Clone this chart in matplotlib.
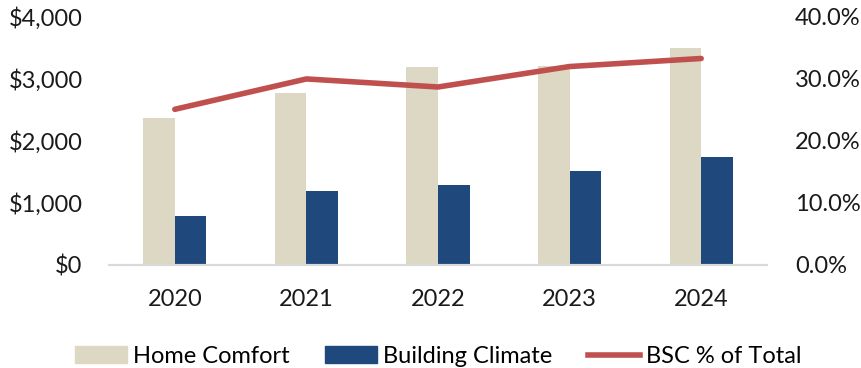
import matplotlib.pyplot as plt
from matplotlib.patches import Patch
from matplotlib.lines import Line2D
from matplotlib.ticker import FuncFormatter
import numpy as np

plt.rcParams['font.family'] = ['Lato', 'DejaVu Sans']

years = ['2020', '2021', '2022', '2023', '2024']
home_comfort = [2366, 2774, 3199, 3215, 3495]
building_climate = [795, 1188, 1285, 1511, 1742]
bsc_pct = [25.1, 30.0, 28.7, 32.0, 33.3]

beige = '#DDD8C3'
navy = '#1F497D'
red = '#C0504D'

fig = plt.figure(figsize=(8.61, 3.68), dpi=100)
ax = fig.add_axes([0.1266, 0.280, 0.7642, 0.674])
ax2 = ax.twinx()

x = np.arange(len(years))
w = 0.24
ax.bar(x - w / 2, home_comfort, w, color=beige)
ax.bar(x + w / 2, building_climate, w, color=navy)
ax2.plot(x, bsc_pct, color=red, lw=4, solid_capstyle='round')

ax.set_xlim(-0.5, 4.5)
ax.set_ylim(0, 4000)
ax.set_yticks([0, 1000, 2000, 3000, 4000])
ax.yaxis.set_major_formatter(FuncFormatter(lambda v, p: '${:,.0f}'.format(v)))
ax2.set_ylim(0, 40)
ax2.set_yticks([0, 10, 20, 30, 40])
ax2.yaxis.set_major_formatter(FuncFormatter(lambda v, p: '{:.1f}%'.format(v)))
ax.set_xticks(x)
ax.set_xticklabels(years)

for a in (ax, ax2):
    for s in ['top', 'left', 'right']:
        a.spines[s].set_visible(False)
    a.spines['bottom'].set_color('#D9D9D9')
    a.spines['bottom'].set_linewidth(1.5)
    a.tick_params(length=0, labelsize=17, colors='#1a1a1a')
ax.tick_params(axis='x', pad=17)
ax.tick_params(axis='y', pad=19)
ax2.tick_params(axis='y', pad=20)

handles = [Patch(color=beige, label='Home Comfort'),
           Patch(color=navy, label='Building Climate'),
           Line2D([0], [0], color=red, lw=4, label='BSC % of Total')]
fig.legend(handles=handles, loc='lower center', bbox_to_anchor=(0.509, -0.055), ncol=3,
           frameon=False, fontsize=17, handlelength=2.2, handleheight=0.7,
           columnspacing=1.5, handletextpad=0.25)

fig.savefig('out.png', dpi=100)
